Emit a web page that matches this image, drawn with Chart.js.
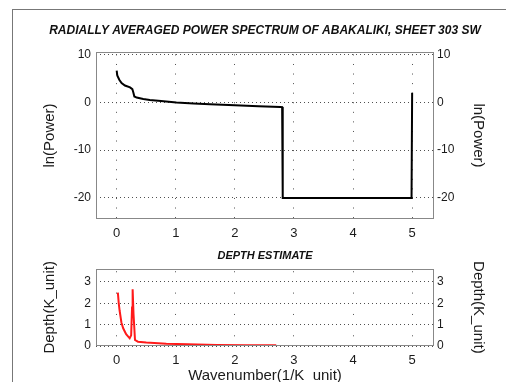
<!DOCTYPE html>
<html><head><meta charset="utf-8">
<script src="https://cdn.jsdelivr.net/npm/chart.js@4"></script>
<style>
html,body{margin:0;padding:0;background:#fff;overflow:hidden;width:506px;height:382px;}
#frame{position:absolute;left:12px;top:9px;width:600px;height:500px;border-left:1px solid #777;border-top:1px solid #777;}
.box{position:absolute;left:0;}
canvas{display:block;}
</style></head><body>
<div id="frame"></div>
<div class="box" style="top:0"><canvas id="c1" width="530" height="240"></canvas></div>
<div class="box" style="top:240px"><canvas id="c2" width="530" height="142"></canvas></div>
<script>
const xTicks = [0, 1, 2, 3, 4, 5];
const powerTicks = [-20, -10, 0, 10];
const depthTicks = [0, 1, 2, 3];

const powerX = [0.0, 0.01, 0.044, 0.083, 0.14, 0.226, 0.265, 0.282, 0.299, 0.338, 0.45, 0.56, 0.75, 1.01, 1.3, 1.58, 2.0, 2.4, 2.77, 2.8, 2.81, 4.99, 5.0];
const powerY = [6.6, 5.6, 4.7, 4.0, 3.5, 3.1, 2.75, 2.04, 1.2, 0.98, 0.7, 0.49, 0.25, -0.07, -0.25, -0.42, -0.63, -0.82, -0.98, -1.02, -20, -20, 2.0];

const depthX = [0.02, 0.035, 0.05, 0.08, 0.11, 0.16, 0.22, 0.245, 0.26, 0.27, 0.285, 0.31, 0.36, 0.5, 0.84, 1.2, 1.69, 2.2, 2.7];
const depthY = [2.5, 2.0, 1.65, 1.1, 0.83, 0.55, 0.36, 0.5, 1.8, 2.66, 1.5, 0.28, 0.2, 0.16, 0.11, 0.08, 0.05, 0.04, 0.03];

const mainTitle = 'RADIALLY AVERAGED POWER SPECTRUM OF ABAKALIKI, SHEET 303 SW';
const depthTitle = 'DEPTH ESTIMATE';

const FONT = '"Liberation Sans", Arial, sans-serif';
const GRID = '#505050';
const TXT = '#1a1a1a';

const framePlugin = {
  id: 'plotFrame',
  afterDraw(c) {
    const a = c.chartArea, ctx = c.ctx;
    const l = Math.round(a.left) + 0.5, t = Math.round(a.top) + 0.5;
    const r = Math.round(a.right) - 0.5, b = Math.round(a.bottom) - 0.5;
    ctx.save();
    ctx.strokeStyle = '#888';
    ctx.lineWidth = 1;
    ctx.strokeRect(l, t, r - l, b - t);
    ctx.restore();
  }
};

function yAxis(pos, ticks, min, max, title, w, titlePad) {
  return {
    type: 'linear', position: pos, min: min, max: max,
    afterBuildTicks: s => { s.ticks = ticks.map(v => ({value: v})); },
    afterFit: s => { s.width = w; },
    grid: {display: pos === 'left', color: GRID, lineWidth: 1, drawTicks: false},
    border: {display: false, dash: [1, 3]},
    ticks: {color: TXT, font: {family: FONT, size: 12}, padding: pos === 'left' ? 5 : 3},
    title: {display: true, text: title, color: TXT, font: {family: FONT, size: 15}, padding: {top: titlePad, bottom: 0}}
  };
}

function xAxis(h, dash, dashOffset, title) {
  const ax = {
    type: 'linear', position: 'bottom', min: -0.35, max: 5.37,
    afterBuildTicks: s => { s.ticks = xTicks.map(v => ({value: v})); },
    afterFit: s => { s.height = h; },
    grid: {color: GRID, lineWidth: 1, drawTicks: false},
    border: {display: false, dash: dash, dashOffset: dashOffset},
    ticks: {color: TXT, font: {family: FONT, size: 13}, padding: 7, maxRotation: 0, autoSkip: false}
  };
  if (title) {
    ax.title = {display: true, text: title, color: TXT, font: {family: FONT, size: 15}, padding: {top: 0, bottom: -2.5}};
  }
  return ax;
}

function titleOpts(text, size, padTop, padBottom) {
  return {display: true, text: text, color: '#111',
    font: {family: FONT, size: size, weight: 'bold', style: 'italic'},
    padding: {top: padTop, bottom: padBottom}};
}

new Chart(document.getElementById('c1'), {
  type: 'scatter',
  data: {datasets: [{
    data: powerX.map((x, i) => ({x: x, y: powerY[i]})),
    showLine: true, borderColor: '#000', borderWidth: 2, pointRadius: 0, tension: 0,
    xAxisID: 'x', yAxisID: 'y'
  }]},
  options: {
    responsive: false, animation: false, devicePixelRatio: 1,
    layout: {padding: 0},
    plugins: {
      legend: {display: false}, tooltip: {enabled: false},
      title: titleOpts(mainTitle, 12, 23.8, 13.8)
    },
    scales: {
      x: xAxis(21, [1, 8.57], 7.17, null),
      y: yAxis('left', powerTicks, -24.4, 10.5, 'ln(Power)', 96, 41),
      y2: yAxis('right', powerTicks, -24.4, 10.5, 'ln(Power)', 96, 43)
    }
  },
  plugins: [framePlugin]
});

new Chart(document.getElementById('c2'), {
  type: 'scatter',
  data: {datasets: [{
    data: depthX.map((x, i) => ({x: x, y: depthY[i]})),
    showLine: true, borderColor: '#ff1a1a', borderWidth: 2, pointRadius: 0, tension: 0,
    xAxisID: 'x', yAxisID: 'y'
  }]},
  options: {
    responsive: false, animation: false, devicePixelRatio: 1,
    layout: {padding: 0},
    plugins: {
      legend: {display: false}, tooltip: {enabled: false},
      title: titleOpts(depthTitle, 11, 9.4, 6.1)
    },
    scales: {
      x: xAxis(36, [1, 20.35], 18.8, 'Wavenumber(1/K_unit)'),
      y: yAxis('left', depthTicks, 0, 3.62, 'Depth(K_unit)', 96, 41),
      y2: yAxis('right', depthTicks, 0, 3.62, 'Depth(K_unit)', 96, 43)
    }
  },
  plugins: [framePlugin]
});
</script>
</body></html>
